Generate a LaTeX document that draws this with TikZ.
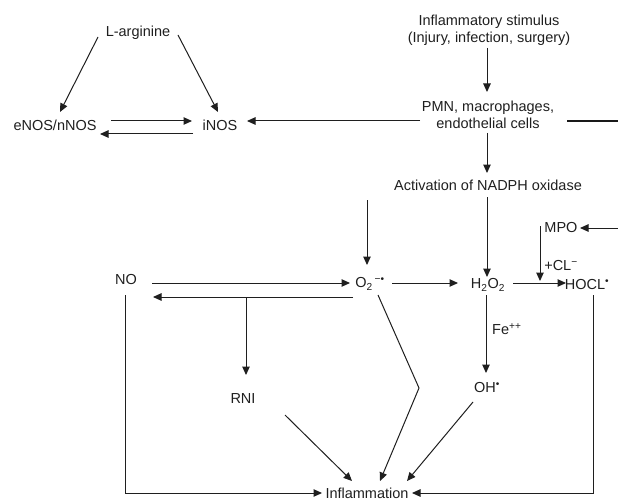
\documentclass[tikz,border=0pt]{standalone}
\usepackage{fontspec}
\setmainfont{Liberation Sans}
\usetikzlibrary{arrows.meta}
\begin{document}
\begin{tikzpicture}[x=1pt,y=-1pt,
  lbl/.style={inner sep=0pt,font=\fontsize{14.5}{17}\selectfont,text=black!88,align=center},
  conn/.style={line width=1pt,draw=black!88},
  arr/.style={conn,-{Triangle[length=8.5pt,width=7.5pt]}},
  thick line/.style={line width=1.5pt,draw=black!90}]
\useasboundingbox (0,0) rectangle (618,500);
% nodes
\node[lbl] (lar) at (138,33) {L-arginine};
\node[lbl] (enos) at (55,125) {eNOS/nNOS};
\node[lbl] (inos) at (220,125) {iNOS};
\node[lbl] (stim) at (489,30) {Inflammatory stimulus\\(Injury, infection, surgery)};
\node[lbl] (pmn) at (488,115) {PMN, macrophages,\\endothelial cells};
\node[lbl] (act) at (488,185) {Activation of NADPH oxidase};
\node[lbl] (no) at (126,280) {NO};
\node[lbl] (o2) at (370,284) {O\textsubscript{2}\textsuperscript{\,−•}};
\node[lbl] (h2o2) at (488,285) {H\textsubscript{2}O\textsubscript{2}};
\node[lbl] (hocl) at (587,285) {HOCL\textsuperscript{•}};
\node[lbl] (mpo) at (561,228) {MPO};
\node[lbl] (cl) at (561,266) {+CL\textsuperscript{−}};
\node[lbl,anchor=west] (fe) at (492,329) {Fe\textsuperscript{++}};
\node[lbl] (oh) at (487,388) {OH\textsuperscript{•}};
\node[lbl] (rni) at (243,399) {RNI};
\node[lbl,anchor=base] (infl) at (367,498) {Inflammation};
% free ends
\coordinate (edgeA) at (618,121);
\coordinate (edgeB) at (618,228);
\coordinate (o2top) at (367,200);
\coordinate (br) at (246,297);
\coordinate (bend) at (419,388);
% connectors
\draw[arr] ([shift={(-40,4)}]lar.center) -- ([shift={(5,-13)}]enos.center);
\draw[arr] ([shift={(40,2)}]lar.center) -- ([shift={(-2,-13)}]inos.center);
\draw[arr] ([shift={(56,-4)}]enos.center) -- ([shift={(-28,-4)}]inos.center);
\draw[arr] ([shift={(-27,9)}]inos.center) -- ([shift={(45,9)}]enos.center);
\draw[arr] ([shift={(-68,6)}]pmn.center) -- ([shift={(27,-4)}]inos.center);
\draw[thick line] ([shift={(79,6)}]pmn.center) -- (edgeA);
\draw[arr] (edgeB) -- ([shift={(19,0)}]mpo.center);
\draw[arr] ([shift={(-2,18)}]stim.center) -- ([shift={(-1,-23)}]pmn.center);
\draw[arr] ([shift={(-1,18)}]pmn.center) -- ([shift={(-1,-12)}]act.center);
\draw[arr] ([shift={(-1,12)}]act.center) -- ([shift={(-1,-8)}]h2o2.center);
\draw[arr] (o2top) -- ([shift={(-3,-19)}]o2.center);
\draw[arr] ([shift={(26,3)}]no.center) -- ([shift={(-20,-1)}]o2.center);
\draw[arr] ([shift={(-17,13)}]o2.center) -- ([shift={(27,17)}]no.center);
\draw[arr] (br) -- ([shift={(3,-24)}]rni.center);
\draw[arr] ([shift={(22,-1)}]o2.center) -- ([shift={(-30,-2)}]h2o2.center);
\draw[arr] ([shift={(25,-2)}]h2o2.center) -- ([shift={(-21,-2)}]hocl.center);
\draw[arr] ([shift={(-21,-2)}]mpo.center) -- ([shift={(-47,-4)}]hocl.center);
\draw[arr] ([shift={(-2,10)}]h2o2.center) -- ([shift={(-1,-15)}]oh.center);
\draw[arr] ([shift={(8,11)}]o2.center) -- (bend) -- ([shift={(13,-17)}]infl.base);
\draw[arr] ([shift={(42,16)}]rni.center) -- ([shift={(-15,-17)}]infl.base);
\draw[arr] ([shift={(-14,14)}]oh.center) -- ([shift={(40,-17)}]infl.base);
\draw[arr] ([shift={(-1,15)}]no.center) |- ([shift={(-45,-5)}]infl.base);
\draw[arr] ([shift={(6,10)}]hocl.center) |- ([shift={(45,-5)}]infl.base);
\end{tikzpicture}
\end{document}
